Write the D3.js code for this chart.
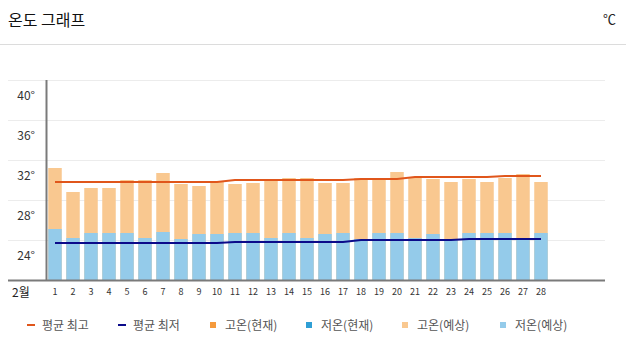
<!DOCTYPE html>
<html><head><meta charset="utf-8">
<script src="https://cdn.jsdelivr.net/npm/d3@7"></script>
<style>
html,body{margin:0;padding:0;background:#fff;}
svg{display:block;font-family:"Noto Sans CJK KR","Noto Sans",sans-serif;}
</style></head>
<body>
<svg id="c" width="626" height="354"></svg>
<script>
const title = "온도 그래프";
const unit = "℃";
const monthLabel = "2월";
const days = d3.range(1, 29);
const allSlots = d3.range(1, 32);
const highForecast = [31.2,28.8,29.2,29.2,30.0,30.0,30.7,29.6,29.4,29.9,29.6,29.7,29.9,30.2,30.2,29.7,29.7,30.2,30.2,30.8,30.3,30.1,29.8,30.1,29.8,30.2,30.6,29.8];
const lowForecast  = [25.1,24.2,24.7,24.7,24.7,24.2,24.8,24.1,24.6,24.6,24.7,24.7,24.2,24.7,24.2,24.6,24.7,24.1,24.7,24.7,24.2,24.6,24.1,24.7,24.7,24.7,24.1,24.7];
const avgHigh = [29.8,29.8,29.8,29.8,29.8,29.8,29.8,29.8,29.8,29.8,30.0,30.0,30.0,30.0,30.0,30.0,30.0,30.1,30.1,30.1,30.3,30.3,30.3,30.3,30.3,30.4,30.4,30.4];
const avgLow  = [23.7,23.7,23.7,23.7,23.7,23.7,23.7,23.7,23.7,23.7,23.8,23.8,23.8,23.8,23.8,23.8,23.8,24.0,24.0,24.0,24.0,24.0,24.0,24.1,24.1,24.1,24.1,24.1];
const yTicks = [24,28,32,36,40];
const yDomain = [20,40];
const legendItems = [
  {label:"평균 최고", type:"line", color:"#e0561b"},
  {label:"평균 최저", type:"line", color:"#0b0b8a"},
  {label:"고온(현재)", type:"rect", color:"#f59a3c"},
  {label:"저온(현재)", type:"rect", color:"#2f9fd5"},
  {label:"고온(예상)", type:"rect", color:"#f9c890"},
  {label:"저온(예상)", type:"rect", color:"#94cbea"}
];
const legendX = [26, 117, 209, 305, 401, 499];

const svg = d3.select("#c");
// header
svg.append("text").attr("x",8).attr("y",26).attr("font-size",16).attr("fill","#111").text(title);
svg.append("text").attr("x",616).attr("y",24).attr("text-anchor","end").attr("font-size",13).attr("fill","#222").text(unit);
svg.append("line").attr("x1",0).attr("x2",626).attr("y1",44.5).attr("y2",44.5).attr("stroke","#dcdcdc");

const x = d3.scaleBand().domain(allSlots).range([46,604]).paddingInner(0.25).paddingOuter(0.125);
const y = d3.scaleLinear().domain(yDomain).range([280,80]);

// gridlines
const grid = svg.append("g").attr("transform","translate(8,0)")
  .call(d3.axisLeft(y).tickValues(yTicks).tickSize(-597).tickFormat(""));
grid.select(".domain").remove();
grid.selectAll("line").attr("stroke","#ececec");

// bars
const bars = svg.append("g");
bars.selectAll("rect.hi").data(days).join("rect")
  .attr("x", d=>x(d)).attr("width", x.bandwidth())
  .attr("y", (d,i)=>y(highForecast[i])).attr("height",(d,i)=>y(yDomain[0])-y(highForecast[i]))
  .attr("fill","#f9c890");
bars.selectAll("rect.lo").data(days).join("rect")
  .attr("x", d=>x(d)).attr("width", x.bandwidth())
  .attr("y", (d,i)=>y(lowForecast[i])).attr("height",(d,i)=>y(yDomain[0])-y(lowForecast[i]))
  .attr("fill","#94cbea");

// avg lines
const cx = d=>x(d)+x.bandwidth()/2;
svg.append("path").datum(days).attr("fill","none").attr("stroke","#e0561b").attr("stroke-width",2)
  .attr("d", d3.line().x(cx).y((d,i)=>y(avgHigh[i])));
svg.append("path").datum(days).attr("fill","none").attr("stroke","#0b0b8a").attr("stroke-width",2)
  .attr("d", d3.line().x(cx).y((d,i)=>y(avgLow[i])));

// y labels
const yl = svg.append("g").attr("transform","translate(37,0)")
  .call(d3.axisLeft(y).tickValues(yTicks).tickSize(0).tickFormat(d=>d+"°"));
yl.select(".domain").remove();
yl.selectAll("text").attr("x",-2).attr("dy","1.6em").attr("font-size",12).attr("fill","#333")
  .attr("font-family","'Noto Sans CJK KR',sans-serif");

// axes lines
svg.append("line").attr("x1",46.5).attr("x2",46.5).attr("y1",80).attr("y2",281).attr("stroke","#7a7a7a").attr("stroke-width",2);
svg.append("line").attr("x1",8).attr("x2",605).attr("y1",280.5).attr("y2",280.5).attr("stroke","#7a7a7a").attr("stroke-width",2);

// x labels
const xl = svg.append("g").attr("transform","translate(0,281)")
  .call(d3.axisBottom(x).tickValues(days).tickSize(0));
xl.select(".domain").remove();
xl.selectAll("text").attr("dy","1.2em").attr("font-size",9).attr("fill","#333")
  .attr("font-family","'Noto Sans CJK KR',sans-serif");
svg.append("text").attr("x",12).attr("y",297).attr("font-size",12).attr("fill","#222").text(monthLabel);

// legend
const lg = svg.append("g");
legendItems.forEach((it,i)=>{
  const gx = legendX[i];
  if(it.type==="line"){
    lg.append("line").attr("x1",gx+1).attr("x2",gx+9).attr("y1",325).attr("y2",325).attr("stroke",it.color).attr("stroke-width",2);
  } else {
    lg.append("rect").attr("x",gx+1).attr("y",322).attr("width",6).attr("height",6).attr("fill",it.color);
  }
  lg.append("text").attr("x",gx+16).attr("y",329.5).attr("font-size",12).attr("fill","#555").text(it.label);
});
</script>
</body></html>
